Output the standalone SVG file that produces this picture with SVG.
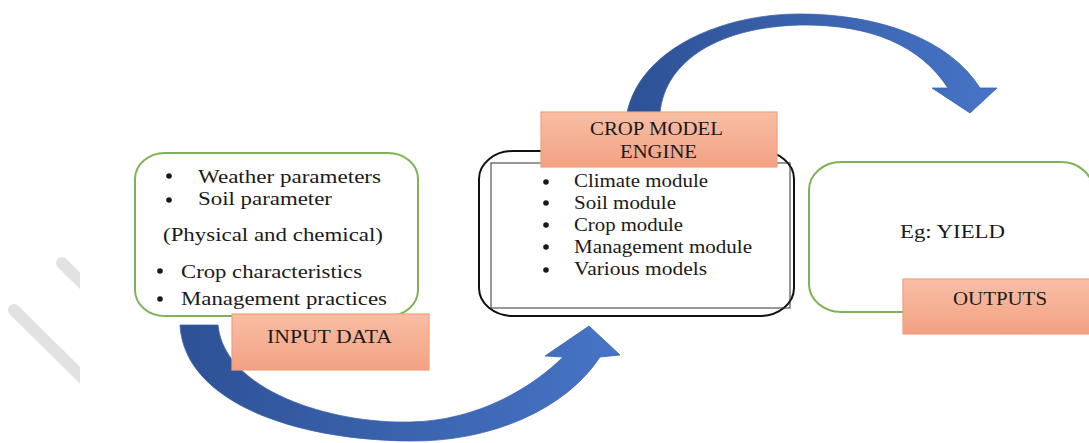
<svg xmlns="http://www.w3.org/2000/svg" width="1089" height="443" viewBox="0 0 1089 443">
<defs>
<linearGradient id="og" x1="0" y1="0" x2="0" y2="1"><stop offset="0" stop-color="#F8BEA5"/><stop offset="1" stop-color="#F3A183"/></linearGradient>
<linearGradient id="bg" x1="0" y1="0" x2="1" y2="0"><stop offset="0" stop-color="#2E5195"/><stop offset="1" stop-color="#4774C6"/></linearGradient>
<clipPath id="wm"><rect x="0" y="0" width="80" height="443"/></clipPath>
</defs>
<style>
.t{font-family:"Liberation Serif","Times New Roman",serif;font-size:19px;fill:#1a1a1a}
.lbl{fill:url(#og);stroke:#F0A07B;stroke-width:1.2}
.gbox{fill:#fff;stroke:#7DB356;stroke-width:2}
.arrow{fill:url(#bg);stroke:#3A62AE;stroke-width:0.8}
.dot{fill:#1a1a1a}
</style>
<rect width="1089" height="443" fill="#fff"/>
<g id="watermark" clip-path="url(#wm)" stroke="#e2e2e2" stroke-width="12" stroke-linecap="round">
<line x1="62" y1="263" x2="100" y2="300"/>
<line x1="14" y1="310" x2="110" y2="405"/>
</g>
<g id="connectors">
<path class="arrow" d="M180,325 L218,325 C224,390 330,424 410,422 C480,421 535,385 563,357 L545,356 L589,326 L620,355 L600,357 C565,410 490,442 410,441 C290,440 184,400 180,325 Z"/>
<path class="arrow" d="M627,113 C640,50 720,14 800,14 C880,14 950,40 980,88 L997,88 L970,113 L932,88 L948,88 C920,45 870,24 800,25 C720,27 665,60 660,113 Z"/>
</g>
<g id="input">
<rect class="gbox" x="135" y="153" width="283" height="163" rx="30" ry="26"/>
<circle class="dot" cx="169" cy="176" r="2.8"/>
<text class="t" x="198" y="183" textLength="183" lengthAdjust="spacingAndGlyphs">Weather parameters</text>
<circle class="dot" cx="169" cy="200" r="2.8"/>
<text class="t" x="198" y="205" textLength="134" lengthAdjust="spacingAndGlyphs">Soil parameter</text>
<text class="t" x="163" y="241" textLength="220" lengthAdjust="spacingAndGlyphs">(Physical and chemical)</text>
<circle class="dot" cx="160" cy="271" r="2.8"/>
<text class="t" x="181" y="278" textLength="181" lengthAdjust="spacingAndGlyphs">Crop characteristics</text>
<circle class="dot" cx="160" cy="299" r="2.8"/>
<text class="t" x="181" y="305" textLength="206" lengthAdjust="spacingAndGlyphs">Management practices</text>
<rect class="lbl" x="232" y="314" width="197" height="56"/>
<text class="t" x="267" y="343" textLength="125" lengthAdjust="spacingAndGlyphs">INPUT DATA</text>
</g>
<g id="engine">
<rect x="479" y="151" width="315" height="165" rx="34" ry="28" fill="#fff" stroke="#111" stroke-width="2"/>
<rect x="491" y="163" width="299" height="145" fill="none" stroke="#333" stroke-width="1"/>
<rect class="lbl" x="541" y="112" width="236" height="55"/>
<text class="t" x="590" y="135" textLength="133" lengthAdjust="spacingAndGlyphs">CROP MODEL</text>
<text class="t" x="620" y="158" textLength="77" lengthAdjust="spacingAndGlyphs">ENGINE</text>
<circle class="dot" cx="546" cy="182" r="2.8"/>
<text class="t" x="574" y="187" textLength="134" lengthAdjust="spacingAndGlyphs">Climate module</text>
<circle class="dot" cx="546" cy="203" r="2.8"/>
<text class="t" x="574" y="209" textLength="102" lengthAdjust="spacingAndGlyphs">Soil module</text>
<circle class="dot" cx="546" cy="225" r="2.8"/>
<text class="t" x="574" y="231" textLength="109" lengthAdjust="spacingAndGlyphs">Crop module</text>
<circle class="dot" cx="546" cy="247" r="2.8"/>
<text class="t" x="574" y="253" textLength="178" lengthAdjust="spacingAndGlyphs">Management module</text>
<circle class="dot" cx="546" cy="270" r="2.8"/>
<text class="t" x="574" y="275" textLength="133" lengthAdjust="spacingAndGlyphs">Various models</text>
</g>
<g id="outputs">
<rect class="gbox" x="809" y="162" width="284" height="150" rx="32" ry="28"/>
<text class="t" x="900" y="238" textLength="105" lengthAdjust="spacingAndGlyphs">Eg: YIELD</text>
<rect class="lbl" x="903" y="279" width="190" height="55"/>
<text class="t" x="953" y="305" textLength="94" lengthAdjust="spacingAndGlyphs">OUTPUTS</text>
</g>
</svg>
